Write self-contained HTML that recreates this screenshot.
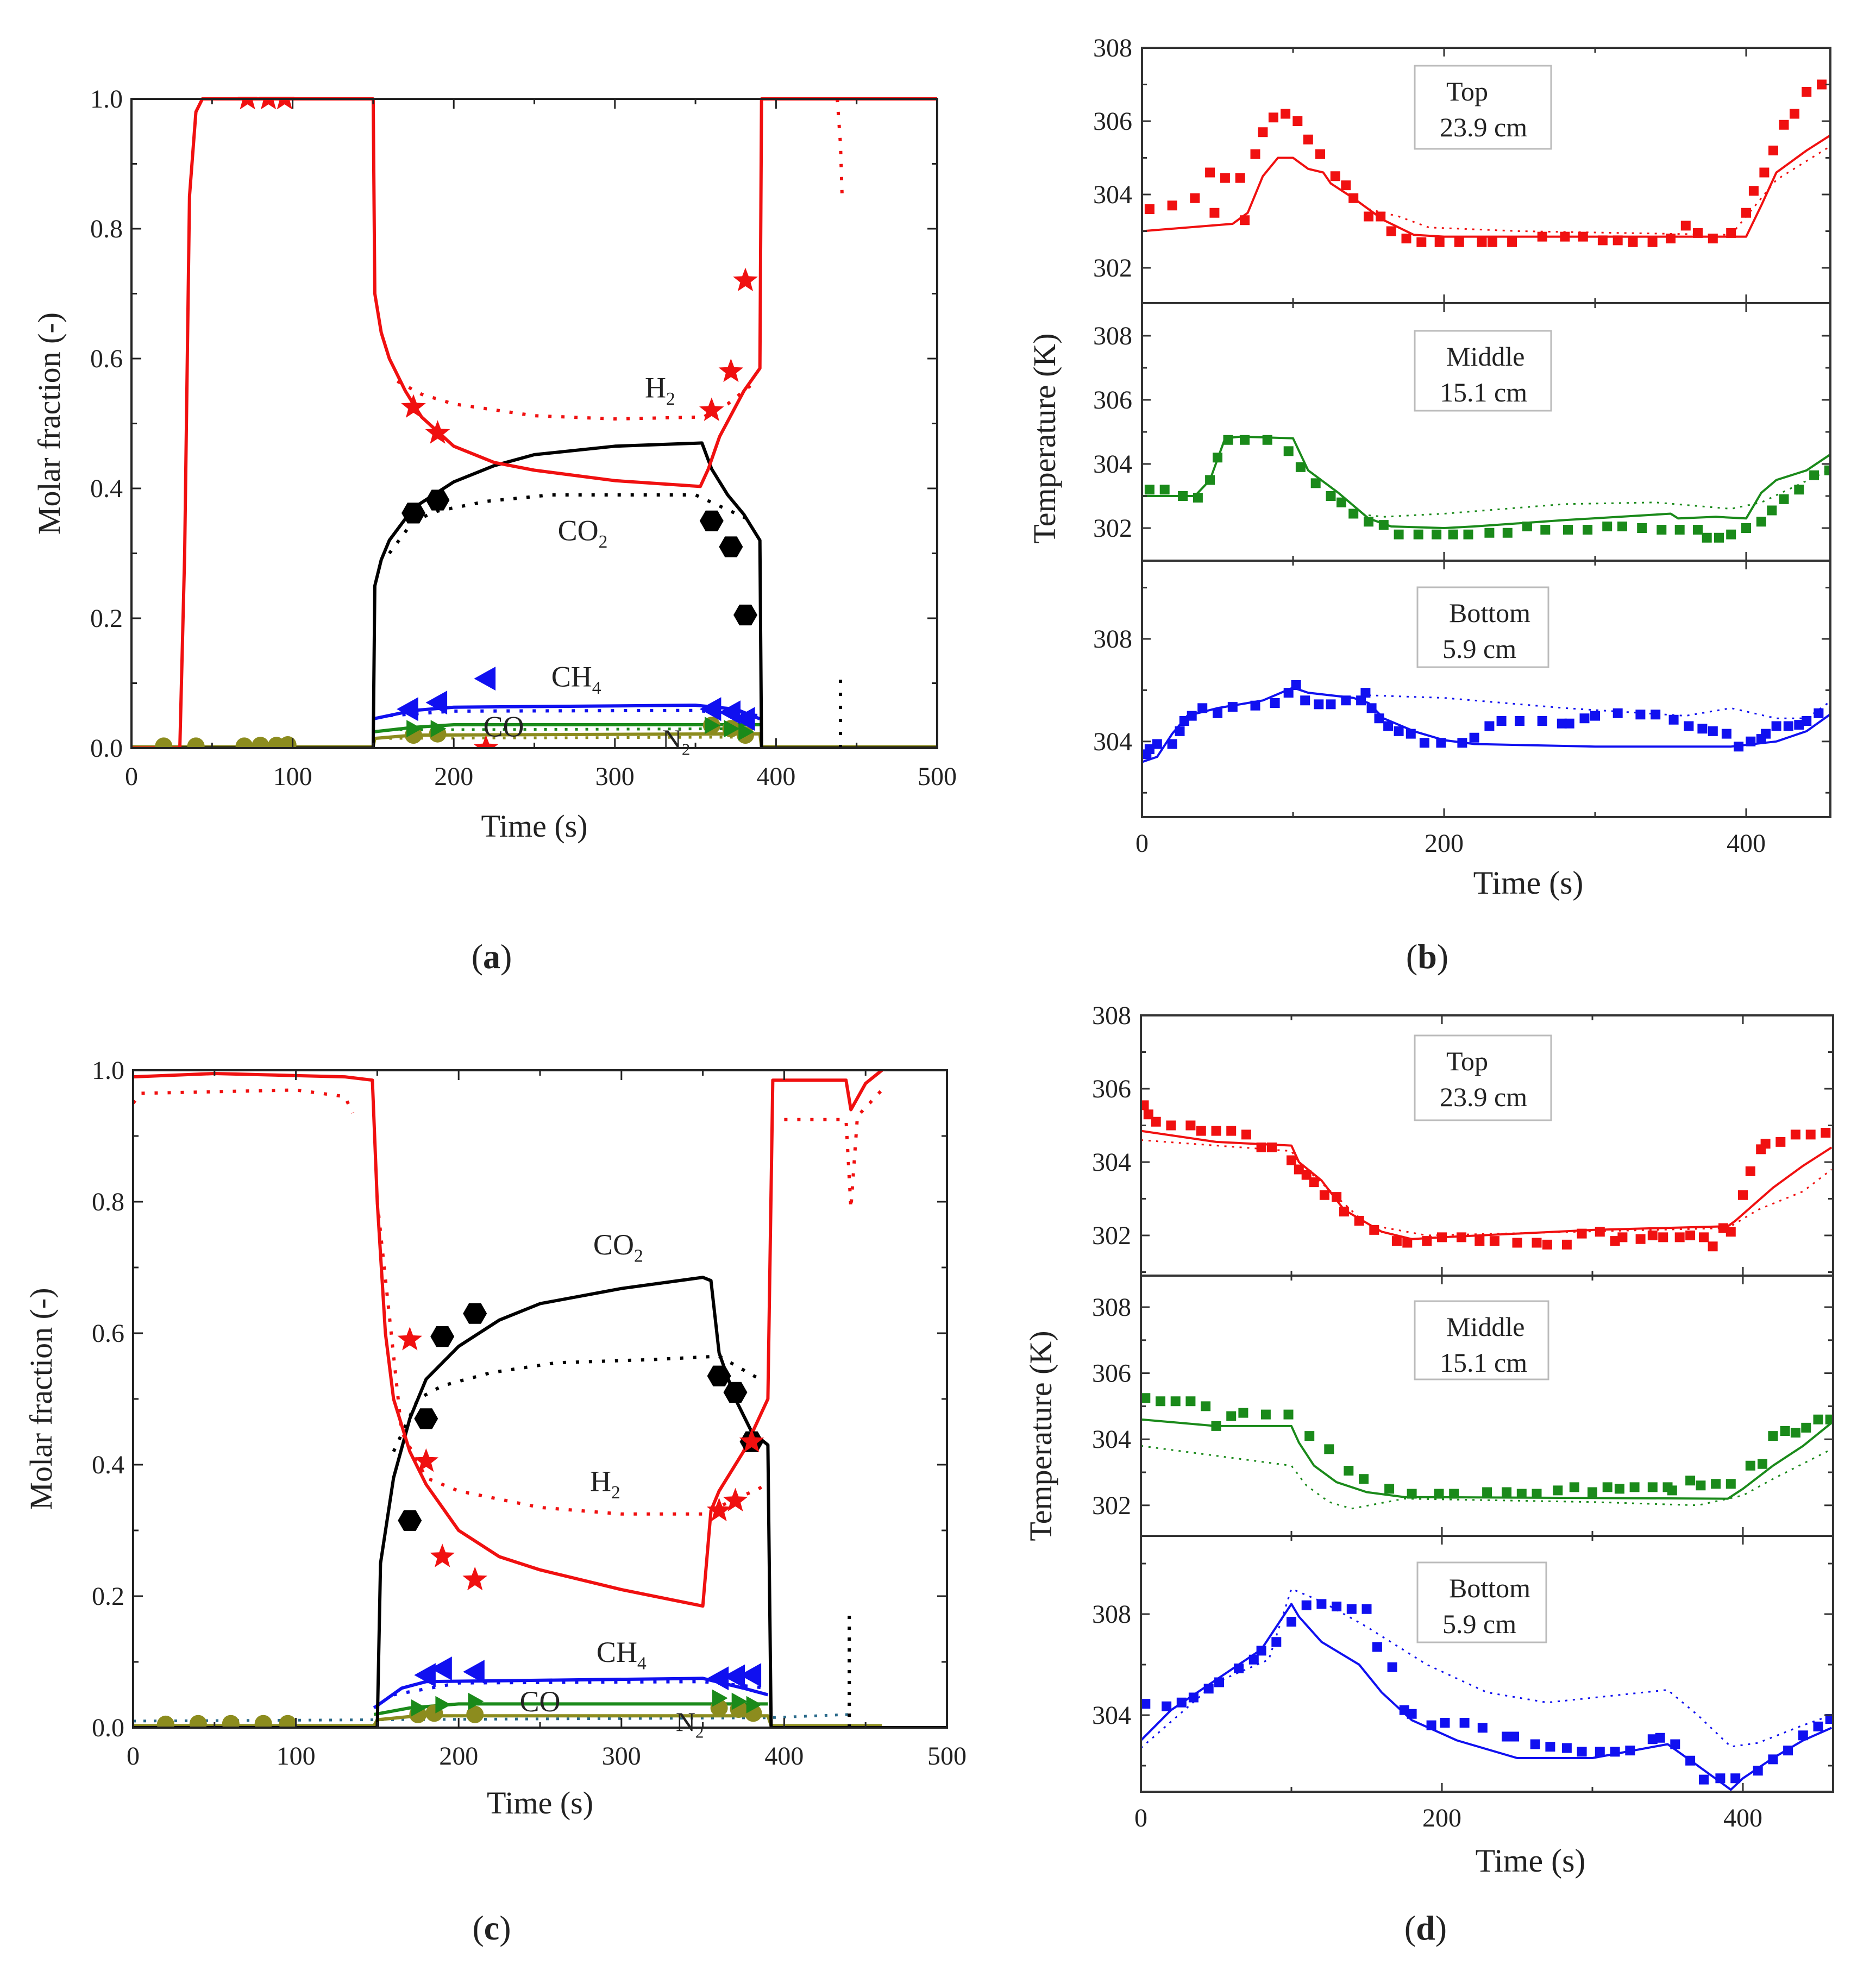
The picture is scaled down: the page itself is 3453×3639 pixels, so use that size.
<!DOCTYPE html>
<html><head><meta charset="utf-8"><style>
html,body{margin:0;padding:0;background:#fff;}
svg{display:block;font-family:"Liberation Serif",serif;}
</style></head><body>
<svg id="fig" xmlns="http://www.w3.org/2000/svg" width="3453" height="3639" viewBox="0 0 3453 3639">
<rect x="0" y="0" width="3453" height="3639" fill="#fff"/>
</svg>
<script>
// ===== Panel (a) data: molar fraction vs time =====
const aH2Solid=[[0,0],[30,0],[33,0.3],[36,0.85],[40,0.98],[44,1],[150,1],[151,0.7],[155,0.64],[160,0.6],[170,0.55],[180,0.51],[200,0.465],[225,0.44],[250,0.428],[300,0.412],[353,0.403],[358,0.43],[365,0.48],[380,0.55],[390,0.585],[391,1],[500,1]];
const aH2Dot=[[165,0.565],[180,0.545],[200,0.53],[250,0.512],[300,0.507],[355,0.51],[370,0.53],[385,0.56]];
const aH2DotDip=[[438,1],[440,0.93],[441,0.85]];
const aH2Stars=[[72,1],[85,1],[95,1],[175,0.525],[190,0.485],[220,0.0],[360,0.52],[372,0.58],[381,0.72]];
const aCO2Solid=[[0,0],[150,0],[151,0.25],[155,0.29],[160,0.32],[175,0.37],[200,0.41],[225,0.435],[250,0.452],[300,0.465],[354,0.47],[360,0.43],[370,0.39],[380,0.36],[390,0.32],[391,0],[500,0]];
const aCO2Dot=[[160,0.3],[175,0.35],[190,0.365],[220,0.38],[260,0.39],[350,0.39],[385,0.35]];
const aCO2Spike=[[440,0],[440,0.11]];
const aCO2Hex=[[175,0.362],[190,0.382],[360,0.35],[372,0.31],[381,0.205]];
const aCH4Solid=[[150,0.045],[175,0.058],[200,0.063],[350,0.066],[375,0.06],[390,0.045]];
const aCH4Dot=[[160,0.05],[200,0.057],[350,0.058],[390,0.05]];
const aCH4Tri=[[172,0.06],[190,0.07],[220,0.107],[360,0.06],[372,0.055],[381,0.045]];
const aCOSolid=[[150,0.025],[175,0.032],[200,0.036],[390,0.036]];
const aCODot=[[160,0.028],[390,0.03]];
const aCOTri=[[175,0.03],[190,0.03],[360,0.035],[372,0.03],[381,0.025]];
const aN2Solid=[[0,0.002],[150,0.002],[151,0.015],[175,0.02],[390,0.022],[391,0.002],[500,0.002]];
const aN2Dot=[[160,0.015],[390,0.017]];
const aN2Circ=[[20,0.003],[40,0.003],[70,0.003],[80,0.004],[90,0.004],[97,0.005],[175,0.02],[190,0.022],[360,0.035],[372,0.03],[381,0.02]];

// ===== Panel (c) data =====
const cH2Solid=[[0,0.99],[50,0.995],[130,0.99],[147,0.985],[150,0.8],[155,0.6],[160,0.5],[170,0.42],[180,0.37],[200,0.3],[225,0.26],[250,0.24],[300,0.21],[350,0.185],[355,0.33],[360,0.36],[375,0.42],[390,0.5],[393,0.985],[438,0.985],[441,0.94],[450,0.98],[460,1]];
const cH2Dot=[[0,0.95],[5,0.965],[100,0.97],[130,0.96],[135,0.935]];
const cH2Dot2=[[150,0.8],[165,0.45],[180,0.38],[200,0.36],[250,0.335],[300,0.325],[350,0.325],[390,0.37]];
const cH2Dot3=[[400,0.925],[438,0.925],[441,0.79],[445,0.93],[460,0.97]];
const cH2Stars=[[170,0.59],[180,0.405],[190,0.26],[210,0.225],[360,0.33],[370,0.345],[380,0.435]];
const cCO2Solid=[[0,0],[150,0],[152,0.25],[160,0.38],[170,0.47],[180,0.53],[200,0.58],[225,0.62],[250,0.645],[300,0.668],[350,0.685],[355,0.68],[360,0.57],[370,0.5],[380,0.45],[390,0.43],[392,0],[500,0]];
const cCO2Dot=[[160,0.42],[175,0.5],[190,0.52],[220,0.54],[260,0.555],[320,0.56],[360,0.565],[385,0.53]];
const cCO2Spike=[[440,0],[440,0.18]];
const cCO2Hex=[[170,0.315],[180,0.47],[190,0.595],[210,0.63],[360,0.535],[370,0.51],[380,0.435]];
const cCH4Solid=[[148,0.03],[165,0.06],[180,0.07],[350,0.075],[375,0.06],[390,0.05]];
const cCH4Dot=[[160,0.05],[200,0.068],[350,0.07],[390,0.06]];
const cCH4Tri=[[180,0.08],[190,0.09],[210,0.085],[360,0.075],[370,0.078],[380,0.08]];
const cCOSolid=[[148,0.02],[170,0.03],[200,0.036],[390,0.036]];
const cCOTri=[[175,0.03],[190,0.035],[210,0.04],[360,0.045],[372,0.04],[381,0.035]];
const cN2Solid=[[0,0.003],[148,0.003],[150,0.012],[175,0.018],[390,0.018],[392,0.003],[460,0.003]];
const cN2Dot=[[0,0.01],[150,0.012],[390,0.015],[440,0.02]];
const cN2Circ=[[20,0.005],[40,0.006],[60,0.006],[80,0.006],[95,0.006],[175,0.02],[185,0.022],[210,0.02],[360,0.03],[372,0.028],[381,0.022]];

// ===== Panel (b) data: temperature (K) vs time =====
const bTopSolid=[[0,303],[60,303.2],[70,303.5],[80,304.5],[90,305],[100,305],[110,304.7],[120,304.6],[125,304.3],[140,303.9],[160,303.3],[180,302.9],[200,302.85],[400,302.85],[410,303.7],[420,304.6],[440,305.2],[459,305.7]];
const bTopDot=[[150,303.6],[170,303.4],[190,303.1],[250,303],[390,302.9],[420,304.4],[459,305.4]];
const bTopSq=[[5,303.6],[20,303.7],[35,303.9],[45,304.6],[48,303.5],[55,304.45],[65,304.45],[68,303.3],[75,305.1],[80,305.7],[87,306.1],[95,306.2],[103,306],[110,305.5],[118,305.1],[128,304.5],[135,304.25],[140,303.9],[150,303.4],[158,303.4],[165,303],[175,302.8],[185,302.7],[197,302.7],[210,302.7],[225,302.7],[232,302.7],[245,302.7],[265,302.85],[280,302.85],[292,302.85],[305,302.75],[315,302.75],[325,302.7],[338,302.7],[350,302.8],[360,303.15],[368,302.95],[378,302.8],[390,302.95],[400,303.5],[405,304.1],[412,304.6],[418,305.2],[425,305.9],[432,306.2],[440,306.8],[450,307]];
const bMidSolid=[[0,303],[35,303],[45,303.5],[55,304.8],[65,304.85],[100,304.8],[105,304.3],[110,303.8],[130,303.1],[150,302.3],[165,302.05],[200,302],[220,302.05],[280,302.25],[350,302.45],[355,302.3],[380,302.35],[400,302.3],[410,303.1],[420,303.5],[440,303.8],[459,304.4]];
const bMidDot=[[150,302.4],[160,302.35],[200,302.45],[280,302.75],[340,302.8],[390,302.6],[410,302.8],[459,303.9]];
const bMidSq=[[5,303.2],[15,303.2],[27,303],[37,302.95],[45,303.5],[50,304.2],[57,304.75],[68,304.75],[83,304.75],[97,304.4],[105,303.9],[115,303.4],[125,303],[132,302.8],[140,302.45],[150,302.2],[160,302.1],[170,301.8],[183,301.8],[195,301.8],[206,301.8],[216,301.8],[230,301.85],[242,301.85],[255,302.05],[267,301.95],[282,301.95],[295,301.95],[308,302.05],[318,302.05],[331,302],[344,301.95],[356,301.95],[368,301.95],[374,301.7],[382,301.7],[390,301.8],[400,302],[410,302.2],[417,302.55],[425,302.9],[435,303.2],[445,303.65],[455,303.8]];
const bBotSolid=[[0,303.2],[10,303.4],[20,304.3],[30,305],[50,305.3],[80,305.6],[100,306.1],[110,305.9],[140,305.7],[150,305.5],[160,304.9],[180,304.4],[200,304.05],[220,303.9],[300,303.8],[390,303.8],[420,304],[440,304.4],[459,305.2]];
const bBotDot=[[150,305.8],[200,305.7],[280,305.3],[360,305],[390,305.3],[420,304.9],[440,304.9],[459,305.7]];
const bBotSq=[[3,303.5],[5,303.7],[10,303.9],[20,303.9],[25,304.4],[28,304.8],[33,305],[40,305.3],[50,305.1],[60,305.35],[75,305.4],[88,305.5],[97,305.9],[102,306.2],[108,305.6],[117,305.45],[125,305.45],[135,305.6],[145,305.6],[148,305.9],[152,305.3],[157,304.9],[163,304.6],[170,304.4],[178,304.3],[187,303.95],[198,303.95],[212,303.95],[220,304.15],[230,304.6],[238,304.8],[250,304.8],[265,304.8],[278,304.7],[283,304.7],[293,304.9],[300,305],[315,305.1],[330,305.05],[340,305.05],[352,304.85],[362,304.6],[371,304.5],[378,304.4],[387,304.3],[395,303.8],[403,304],[410,304.1],[413,304.3],[420,304.6],[428,304.6],[435,304.65],[440,304.8],[448,305.1],[458,305.2]];

// ===== Panel (d) data =====
const dTopSolid=[[0,304.85],[50,304.55],[100,304.45],[105,304],[120,303.5],[135,302.7],[160,302.1],[180,301.9],[200,301.95],[300,302.15],[390,302.25],[395,302.4],[420,303.3],[440,303.9],[459,304.4]];
const dTopDot=[[0,304.6],[100,304.3],[105,304],[150,302.3],[190,302],[390,302.2],[410,302.7],[440,303.2],[459,303.8]];
const dTopSq=[[2,305.55],[5,305.3],[10,305.1],[20,305],[33,305],[40,304.85],[50,304.85],[60,304.85],[70,304.75],[80,304.4],[87,304.4],[100,304.05],[105,303.8],[110,303.65],[115,303.45],[122,303.1],[130,303.05],[135,302.65],[145,302.4],[155,302.15],[170,301.85],[177,301.8],[190,301.85],[200,301.95],[213,301.95],[225,301.85],[235,301.85],[250,301.8],[263,301.8],[270,301.75],[283,301.75],[293,302.05],[305,302.1],[315,301.85],[320,301.95],[332,301.9],[340,302],[347,301.95],[358,301.95],[365,302],[374,301.95],[380,301.7],[387,302.2],[392,302.1],[400,303.1],[405,303.75],[412,304.35],[415,304.5],[425,304.55],[435,304.75],[445,304.75],[455,304.8]];
const dMidSolid=[[0,304.6],[50,304.4],[100,304.4],[105,303.9],[115,303.2],[130,302.7],[150,302.4],[175,302.25],[390,302.2],[400,302.5],[420,303.2],[440,303.8],[459,304.5]];
const dMidDot=[[0,303.8],[50,303.5],[100,303.2],[110,302.6],[125,302.1],[140,301.9],[175,302.2],[300,302.1],[370,302],[400,302.3],[420,302.8],[459,303.7]];
const dMidSq=[[3,305.25],[13,305.15],[23,305.15],[33,305.15],[43,305],[50,304.4],[60,304.7],[68,304.8],[83,304.75],[98,304.75],[112,304.1],[125,303.7],[138,303.05],[148,302.8],[165,302.5],[180,302.35],[198,302.35],[208,302.35],[230,302.4],[243,302.4],[253,302.35],[263,302.35],[277,302.45],[288,302.55],[300,302.4],[310,302.55],[318,302.5],[328,302.55],[340,302.55],[350,302.55],[353,302.45],[365,302.75],[372,302.6],[382,302.65],[392,302.65],[405,303.2],[413,303.25],[420,304.1],[428,304.25],[435,304.2],[442,304.35],[450,304.6],[458,304.6]];
const dBotSolid=[[0,303],[20,304.2],[50,305.4],[80,306.6],[100,308.4],[105,307.9],[120,306.9],[145,306],[160,304.9],[180,303.8],[210,303],[250,302.3],[300,302.3],[350,302.85],[370,302],[392,301.05],[400,301.5],[420,302.3],[440,303],[459,303.5]];
const dBotDot=[[0,302.7],[50,305.3],[85,306.2],[100,309],[120,308.5],[150,307.5],[190,306],[230,304.9],[270,304.5],[350,305],[370,304],[392,302.75],[410,302.9],[440,303.6],[459,304]];
const dBotSq=[[3,304.45],[17,304.35],[27,304.5],[35,304.7],[45,305.05],[52,305.3],[65,305.85],[75,306.2],[80,306.55],[90,306.9],[100,307.7],[110,308.35],[120,308.4],[130,308.3],[140,308.2],[150,308.2],[157,306.7],[167,305.9],[175,304.2],[180,304.05],[193,303.6],[202,303.7],[215,303.7],[227,303.5],[243,303.15],[248,303.15],[262,302.85],[272,302.75],[283,302.7],[293,302.55],[305,302.55],[315,302.55],[325,302.6],[340,303.05],[345,303.1],[355,302.85],[365,302.2],[374,301.45],[385,301.5],[395,301.5],[410,301.8],[420,302.25],[430,302.6],[440,303.2],[450,303.55],[458,303.85]];

// tick label arrays
const molarTicks=["0.0","0.2","0.4","0.6","0.8","1.0"];
const timeTicksAC=["0","100","200","300","400","500"];
const timeTicksBD=["0","200","400"];
const tempTicksFull=["302","304","306","308"];
const tempTicksBot=["304","308"];

const NS="http://www.w3.org/2000/svg";
const svg=document.getElementById('fig');
function el(tag,attrs,parent){const e=document.createElementNS(NS,tag);for(const k in attrs)e.setAttribute(k,attrs[k]);(parent||svg).appendChild(e);return e;}
function lin(d0,d1,r0,r1){return v=>r0+(v-d0)*(r1-r0)/(d1-d0);}
const RED="#f01010",BLK="#000",BLU="#1010f0",GRN="#1a8a1a",OLV="#8c8c1e";

function drawLine(g,data,X,Y,color,w,dash,name){
  const p=el('polyline',{points:data.map(d=>X(d[0]).toFixed(1)+','+Y(d[1]).toFixed(1)).join(' '),fill:'none',stroke:color,'stroke-width':w,'stroke-linejoin':'round'},g);
  if(dash)p.setAttribute('stroke-dasharray',dash);
  
  
}
function shapePath(shape,s){
  if(shape==='star'){let pts=[];for(let i=0;i<10;i++){const r=i%2?s*0.42:s;const a=-Math.PI/2+i*Math.PI/5;pts.push((r*Math.cos(a)).toFixed(1)+','+(r*Math.sin(a)).toFixed(1));}return 'M'+pts.join('L')+'Z';}
  if(shape==='hex'){let pts=[];for(let i=0;i<6;i++){const a=i*Math.PI/3;pts.push((s*Math.cos(a)).toFixed(1)+','+(s*Math.sin(a)).toFixed(1));}return 'M'+pts.join('L')+'Z';}
  if(shape==='tril')return `M${-s},0L${s*0.8},${-s}L${s*0.8},${s}Z`;
  if(shape==='trir')return `M${s},0L${-s*0.8},${-s}L${-s*0.8},${s}Z`;
  if(shape==='sq')return `M${-s},${-s}H${s}V${s}H${-s}Z`;
  if(shape==='circ')return `M${-s},0A${s},${s} 0 1 0 ${s},0A${s},${s} 0 1 0 ${-s},0Z`;
}
function drawMarkers(g,data,X,Y,shape,color,s,name){
  for(const d of data){
    const p=el('path',{d:shapePath(shape,s),transform:`translate(${X(d[0]).toFixed(1)},${Y(d[1]).toFixed(1)})`,fill:color},g);
    
    
  }
}
function text(g,x,y,str,size,anchor,name,extra){
  const t=el('text',Object.assign({x:x,y:y,'font-size':size,'text-anchor':anchor||'middle',fill:'#222'},extra||{}),g);
  t.textContent=str;
  
  
  return t;
}
function subText(g,x,y,main,sub,size,name){
  const t=el('text',{x:x,y:y,'font-size':size,'text-anchor':'middle',fill:'#222'},g);
  
  
  const a=el('tspan',{},t);a.textContent=main;
  const b=el('tspan',{'font-size':size*0.62,dy:size*0.25},t);b.textContent=sub;
}

// ---------- Molar panels ----------
function molarPanel(id,x0,x1,yb,yt){
  const g=el('g',{});
  
  
  const X=lin(0,500,x0,x1),Y=lin(0,1,yb,yt);
  const cp=el('clipPath',{id:'clip'+id},g);el('rect',{x:x0,y:yt-4,width:x1-x0,height:yb-yt+6},cp);
  const plot=el('g',{'clip-path':`url(#clip${id})`},g);
  
  
  const tk=el('g',{stroke:'#222','stroke-width':3},g);
  
  
  for(let v=0;v<=1.0001;v+=0.1){const maj=Math.round(v*10)%2===0;const L=maj?18:10;const y=Y(v);
    el('line',{x1:x0,y1:y,x2:x0+L,y2:y},tk);el('line',{x1:x1,y1:y,x2:x1-L,y2:y},tk);}
  for(let t=0;t<=500;t+=50){const maj=t%100===0;const L=maj?18:10;const x=X(t);
    el('line',{x1:x,y1:yb,x2:x,y2:yb-L},tk);el('line',{x1:x,y1:yt,x2:x,y2:yt+L},tk);}
  molarTicks.forEach((s,i)=>text(g,x0-16,Y(i*0.2)+16,s,48,'end','y-tick-label'));
  timeTicksAC.forEach((s,i)=>text(g,X(i*100),yb+68,s,48,'middle','x-tick-label'));
  const fr=el('rect',{x:x0,y:yt,width:x1-x0,height:yb-yt,fill:'none',stroke:'#222','stroke-width':4},g);
  
  
  return {g,plot,X,Y};
}
function molarTitles(g,x0,x1,yb,yt,xt,dyT){
  text(g,(x0+x1)/2,yb+dyT,'Time (s)',58,'middle','x-axis-title');
  text(g,0,0,'Molar fraction (-)',58,'middle','y-axis-title',{transform:`translate(${xt},${(yb+yt)/2}) rotate(-90)`});
}

// Panel a
(function(){
  const P=molarPanel('a',242,1725,1377,182);const {plot:g,X,Y}=P;
  drawLine(g,aN2Solid,X,Y,OLV,6,null,'n2-model-line');
  drawLine(g,aN2Dot,X,Y,OLV,5,'5 14','n2-dotted-line');
  drawLine(g,aCOSolid,X,Y,GRN,6,null,'co-model-line');
  drawLine(g,aCODot,X,Y,GRN,5,'5 14','co-dotted-line');
  drawLine(g,aCH4Solid,X,Y,BLU,6,null,'ch4-model-line');
  drawLine(g,aCH4Dot,X,Y,BLU,6,'6 18','ch4-dotted-line');
  drawLine(g,aCO2Solid,X,Y,BLK,6,null,'co2-model-line');
  drawLine(g,aCO2Dot,X,Y,BLK,6,'6 18','co2-dotted-line');
  drawLine(g,aCO2Spike,X,Y,BLK,6,'6 18','co2-spike');
  drawLine(g,aH2Solid,X,Y,RED,6,null,'h2-model-line');
  drawLine(g,aH2Dot,X,Y,RED,6,'6 18','h2-dotted-line');
  drawLine(g,aH2DotDip,X,Y,RED,6,'6 18','h2-dotted-dip');
  drawMarkers(g,aN2Circ,X,Y,'circ',OLV,16,'n2-marker');
  drawMarkers(g,aCOTri,X,Y,'trir',GRN,16,'co-marker');
  drawMarkers(g,aCH4Tri,X,Y,'tril',BLU,22,'ch4-marker');
  drawMarkers(g,aCO2Hex,X,Y,'hex',BLK,22,'co2-marker');
  drawMarkers(g,aH2Stars,X,Y,'star',RED,24,'h2-marker');
  subText(P.g,X(328),Y(0.54),'H','2',54,'h2-label');
  subText(P.g,X(280),Y(0.32),'CO','2',54,'co2-label');
  subText(P.g,X(276),Y(0.095),'CH','4',54,'ch4-label');
  text(P.g,X(231),Y(0.018),'CO',54,'middle','co-label');
  subText(P.g,X(338),Y(0.0),'N','2',50,'n2-label');
  molarTitles(P.g,242,1725,1377,182,110,163);
  const lb=text(svg,905,1782,'',64,'middle','panel-label-a');
  const t1=el('tspan',{},lb);t1.textContent='(';const t2=el('tspan',{'font-weight':'bold'},lb);t2.textContent='a';const t3=el('tspan',{},lb);t3.textContent=')';
})();

// Panel c
(function(){
  const P=molarPanel('c',245,1743,3180,1970);const {plot:g,X,Y}=P;
  drawLine(g,cN2Dot,X,Y,'#2a6a8a',5,'5 14','n2-dotted-line');
  drawLine(g,cN2Solid,X,Y,OLV,6,null,'n2-model-line');
  drawLine(g,cCOSolid,X,Y,GRN,6,null,'co-model-line');
  drawLine(g,cCH4Solid,X,Y,BLU,6,null,'ch4-model-line');
  drawLine(g,cCH4Dot,X,Y,BLU,6,'6 18','ch4-dotted-line');
  drawLine(g,cCO2Solid,X,Y,BLK,6,null,'co2-model-line');
  drawLine(g,cCO2Dot,X,Y,BLK,6,'6 18','co2-dotted-line');
  drawLine(g,cCO2Spike,X,Y,BLK,6,'6 14','co2-spike');
  drawLine(g,cH2Solid,X,Y,RED,6,null,'h2-model-line');
  drawLine(g,cH2Dot,X,Y,RED,6,'6 18','h2-dotted-line');
  drawLine(g,cH2Dot2,X,Y,RED,6,'6 18','h2-dotted-line-2');
  drawLine(g,cH2Dot3,X,Y,RED,6,'6 18','h2-dotted-line-3');
  drawMarkers(g,cN2Circ,X,Y,'circ',OLV,16,'n2-marker');
  drawMarkers(g,cCOTri,X,Y,'trir',GRN,16,'co-marker');
  drawMarkers(g,cCH4Tri,X,Y,'tril',BLU,22,'ch4-marker');
  drawMarkers(g,cCO2Hex,X,Y,'hex',BLK,22,'co2-marker');
  drawMarkers(g,cH2Stars,X,Y,'star',RED,24,'h2-marker');
  subText(P.g,X(298),Y(0.72),'CO','2',54,'co2-label');
  subText(P.g,X(290),Y(0.36),'H','2',54,'h2-label');
  subText(P.g,X(300),Y(0.1),'CH','4',54,'ch4-label');
  text(P.g,X(250),Y(0.025),'CO',54,'middle','co-label');
  subText(P.g,X(342),Y(-0.005),'N','2',50,'n2-label');
  molarTitles(P.g,245,1743,3180,1970,95,158);
  const lb=text(svg,905,3570,'',64,'middle','panel-label-c');
  const t1=el('tspan',{},lb);t1.textContent='(';const t2=el('tspan',{'font-weight':'bold'},lb);t2.textContent='c';const t3=el('tspan',{},lb);t3.textContent=')';
})();

// ---------- Temperature panels ----------
function tempSub(id,x0,x1,top,bot,refV,refY,ppu,labels,color,solid,dot,sq,boxRect,l1,l2,showX){
  const g=el('g',{});
  
  
  const X=lin(0,400,x0,x0+400*(id[0]==='b'?2.78:2.77));
  const Y=v=>refY-(v-refV)*ppu;
  const cp=el('clipPath',{id:'clip'+id},g);el('rect',{x:x0,y:top,width:x1-x0,height:bot-top},cp);
  const pg=el('g',{'clip-path':`url(#clip${id})`},g);
  const tk=el('g',{stroke:'#333','stroke-width':3},g);
  const step=labels.length===2?2:1;
  for(let v=300;v<=312;v+=step){const y=Y(v);if(y<top+2||y>bot-2)continue;const maj=(step===2?v%4===0:v%2===0);const L=maj?16:9;
    el('line',{x1:x0,y1:y,x2:x0+L,y2:y},tk);el('line',{x1:x1,y1:y,x2:x1-L,y2:y},tk);}
  for(let t=0;t<=450;t+=100){const x=X(t);const L=t%200===0?16:9;
    el('line',{x1:x,y1:bot,x2:x,y2:bot-L},tk);el('line',{x1:x,y1:top,x2:x,y2:top+L},tk);}
  labels.forEach(s=>{const y=Y(+s);text(g,x0-18,y+16,s,48,'end','y-tick-label');});
  if(showX)timeTicksBD.forEach((s,i)=>text(g,X(i*200),bot+64,s,48,'middle','x-tick-label'));
  drawLine(pg,dot,X,Y,color,3,'4 10','model-dotted-line');
  drawLine(pg,solid,X,Y,color,4,null,'model-solid-line');
  drawMarkers(pg,sq,X,Y,'sq',color,9,'measured-marker');
  const bx=el('rect',{x:boxRect[0],y:boxRect[1],width:boxRect[2]-boxRect[0],height:boxRect[3]-boxRect[1],fill:'#fff',stroke:'#bbb','stroke-width':3},g);
  
  
  text(g,boxRect[0]+58,boxRect[1]+64,l1,50,'start','position-name');
  text(g,boxRect[0]+46,boxRect[1]+130,l2,50,'start','position-depth');
  const fr=el('rect',{x:x0,y:top,width:x1-x0,height:bot-top,fill:'none',stroke:'#333','stroke-width':4},g);
  
  
}
// Panel b
tempSub('b-top',2102,3369,88,558,308,88,67.5,tempTicksFull,RED,bTopSolid,bTopDot,bTopSq,[2604,121,2855,274],'Top','23.9 cm',false);
tempSub('b-mid',2102,3369,558,1032,308,618,59,tempTicksFull,GRN,bMidSolid,bMidDot,bMidSq,[2604,609,2855,756],'Middle','15.1 cm',false);
tempSub('b-bot',2102,3369,1032,1504,308,1176,47.2,tempTicksBot,BLU,bBotSolid,bBotDot,bBotSq,[2609,1081,2850,1228],'Bottom','5.9 cm',true);
text(svg,2813,1645,'Time (s)',60,'middle','x-axis-title-b');
text(svg,0,0,'Temperature (K)',58,'middle','y-axis-title-b',{transform:'translate(1942,807) rotate(-90)'});
(function(){const lb=text(svg,2627,1782,'',64,'middle','panel-label-b');const a=el('tspan',{},lb);a.textContent='(';const b=el('tspan',{'font-weight':'bold'},lb);b.textContent='b';const c=el('tspan',{},lb);c.textContent=')';})();
// Panel d
tempSub('d-top',2100,3374,1869,2348,308,1869,67.5,tempTicksFull,RED,dTopSolid,dTopDot,dTopSq,[2604,1906,2855,2062],'Top','23.9 cm',false);
tempSub('d-mid',2100,3374,2348,2827,308,2406,60.8,tempTicksFull,GRN,dMidSolid,dMidDot,dMidSq,[2604,2395,2850,2539],'Middle','15.1 cm',false);
tempSub('d-bot',2100,3374,2827,3298,304,3157,46.5,tempTicksBot,BLU,dBotSolid,dBotDot,dBotSq,[2609,2876,2846,3023],'Bottom','5.9 cm',true);
text(svg,2817,3445,'Time (s)',60,'middle','x-axis-title-d');
text(svg,0,0,'Temperature (K)',58,'middle','y-axis-title-d',{transform:'translate(1935,2643) rotate(-90)'});
(function(){const lb=text(svg,2624,3570,'',64,'middle','panel-label-d');const a=el('tspan',{},lb);a.textContent='(';const b=el('tspan',{'font-weight':'bold'},lb);b.textContent='d';const c=el('tspan',{},lb);c.textContent=')';})();
</script>
</body></html>
